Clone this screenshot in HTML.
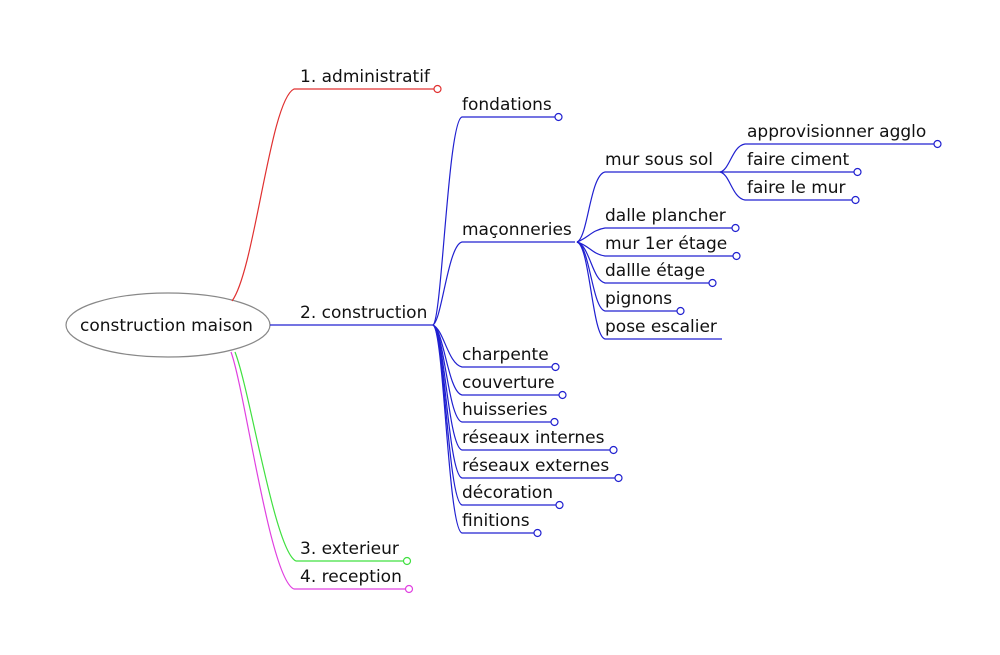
<!DOCTYPE html>
<html><head><meta charset="utf-8"><style>
html,body{margin:0;padding:0;background:#fff;}
svg{display:block;}
text{font-family:"DejaVu Sans","Liberation Sans",sans-serif;font-size:17px;fill:#111;}
</style></head><body>
<svg width="1000" height="655" viewBox="0 0 1000 655" xmlns="http://www.w3.org/2000/svg">
<g fill="none" stroke-width="1.2">
<ellipse cx="168" cy="325" rx="102" ry="32" stroke="#888"/>
<path d="M232,301 C255,270 270,100 294,89 L434,89" stroke="#e03030"/>
<circle cx="437.5" cy="89" r="3.5" stroke="#e03030" fill="#fff"/>
<path d="M235,352 C250,390 275,552 296,561 L404,561" stroke="#40e040"/>
<circle cx="407" cy="561" r="3.5" stroke="#40e040" fill="#fff"/>
<path d="M231,352 C245,390 270,580 294,589 L405,589" stroke="#e040e0"/>
<circle cx="409" cy="589" r="3.5" stroke="#e040e0" fill="#fff"/>
<g stroke="#2020d0">
<path d="M270,325 L433,325"/>
<path d="M433,325 C442,320 448,120 462,117 L555,117"/>
<path d="M433,325 C442,320 448,245 462,242 L575,242"/>
<path d="M433,325 C444,330 448,364 462,367 L552,367"/>
<path d="M433,325 C444,330 448,392 462,395 L559,395"/>
<path d="M433,325 C444,330 448,419 462,422 L551,422"/>
<path d="M433,325 C444,330 448,447 462,450 L610,450"/>
<path d="M433,325 C444,330 448,475 462,478 L615,478"/>
<path d="M433,325 C444,330 448,502 462,505 L556,505"/>
<path d="M433,325 C444,330 448,530 462,533 L534,533"/>
<path d="M577,242 C588,238 590,175 605,172 L720,172"/>
<path d="M577,242 C588,238 592,230 605,228 L732,228"/>
<path d="M577,242 C590,246 592,254 605,256 L733,256"/>
<path d="M577,242 C590,246 592,280 605,283 L709,283"/>
<path d="M577,242 C590,246 592,308 605,311 L677,311"/>
<path d="M577,242 C590,246 592,336 605,339 L722,339"/>
<path d="M720,172 C730,170 732,146 745,144 L934,144"/>
<path d="M720,172 L854,172"/>
<path d="M720,172 C730,174 732,198 745,200 L852,200"/>
</g>
<g stroke="#2020d0" fill="#fff">
<circle cx="558.5" cy="117" r="3.5"/>
<circle cx="555.5" cy="367" r="3.5"/>
<circle cx="562.5" cy="395" r="3.5"/>
<circle cx="554.5" cy="422" r="3.5"/>
<circle cx="613.5" cy="450" r="3.5"/>
<circle cx="618.5" cy="478" r="3.5"/>
<circle cx="559.5" cy="505" r="3.5"/>
<circle cx="537.5" cy="533" r="3.5"/>
<circle cx="735.5" cy="228" r="3.5"/>
<circle cx="736.5" cy="256" r="3.5"/>
<circle cx="712.5" cy="283" r="3.5"/>
<circle cx="680.5" cy="311" r="3.5"/>
<circle cx="937.5" cy="144" r="3.5"/>
<circle cx="857.5" cy="172" r="3.5"/>
<circle cx="855.5" cy="200" r="3.5"/>
</g>
</g>
<text x="80" y="331">construction maison</text>
<text x="300" y="82">1. administratif</text>
<text x="300" y="318">2. construction</text>
<text x="300" y="554">3. exterieur</text>
<text x="300" y="582">4. reception</text>
<text x="462" y="110">fondations</text>
<text x="462" y="235">maçonneries</text>
<text x="462" y="360">charpente</text>
<text x="462" y="388">couverture</text>
<text x="462" y="415">huisseries</text>
<text x="462" y="443">réseaux internes</text>
<text x="462" y="471">réseaux externes</text>
<text x="462" y="498">décoration</text>
<text x="462" y="526">finitions</text>
<text x="605" y="165">mur sous sol</text>
<text x="605" y="221">dalle plancher</text>
<text x="605" y="249">mur 1er étage</text>
<text x="605" y="276">dallle étage</text>
<text x="605" y="304">pignons</text>
<text x="605" y="332">pose escalier</text>
<text x="747" y="137">approvisionner agglo</text>
<text x="747" y="165">faire ciment</text>
<text x="747" y="193">faire le mur</text>
</svg>
</body></html>
